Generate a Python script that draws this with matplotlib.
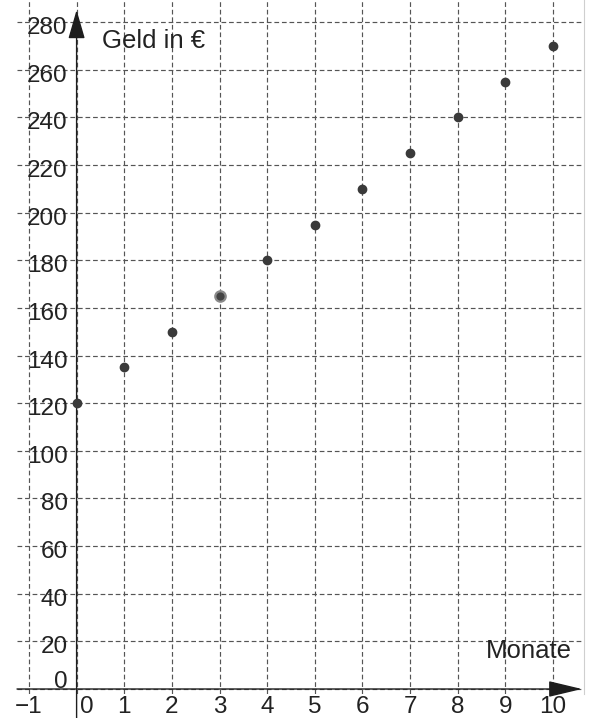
import matplotlib
matplotlib.use("Agg")
import matplotlib.pyplot as plt

plt.rcParams['font.family'] = ['Liberation Sans', 'DejaVu Sans']

# data
months = [0, 1, 2, 3, 4, 5, 6, 7, 8, 9, 10]
money = [120, 135, 150, 165, 180, 195, 210, 225, 240, 255, 270]
highlight_month = 3
x_ticks = [-1, 0, 1, 2, 3, 4, 5, 6, 7, 8, 9, 10]
x_tick_labels = ['−1', '0', '1', '2', '3', '4', '5', '6', '7', '8', '9', '10']
y_ticks = [0, 20, 40, 60, 80, 100, 120, 140, 160, 180, 200, 220, 240, 260, 280]
x_title = 'Monate'
y_title = 'Geld in €'

W, H = 590, 718
fig = plt.figure(figsize=(W / 100, H / 100), dpi=100)
left_px, right_px, bottom_px = 17, 584, 694
ax = fig.add_axes([left_px / W, (H - bottom_px) / H, (right_px - left_px) / W, bottom_px / H])

x0px, pxx = 76.6, 47.64
y0px, pxy = 689.0, 2.382
ax.set_xlim((left_px - x0px) / pxx, (right_px - x0px) / pxx)
ax.set_ylim((y0px - bottom_px) / pxy, y0px / pxy)

ax.set_xticks(x_ticks)
ax.set_yticks(y_ticks)
ax.tick_params(length=0, labelbottom=False, labelleft=False)
ax.grid(True, linestyle=(0, (4.0, 2.4)), color='#555555', lw=0.85)
for s in ['left', 'top', 'bottom']:
    ax.spines[s].set_visible(False)
ax.spines['right'].set_color('#cfcfcf')
ax.spines['right'].set_linewidth(0.8)

axis_col = '#1e1e1e'
# x axis with arrow
x_tip = (582 - x0px) / pxx
ax.annotate('', xy=(x_tip, 0), xytext=((left_px - x0px) / pxx, 0),
            arrowprops=dict(arrowstyle='-|>,head_length=2.1,head_width=0.5', mutation_scale=10,
                            color=axis_col, lw=1.0, shrinkA=0, shrinkB=0),
            annotation_clip=False)
# y axis with arrow
y_tip = (y0px - 10) / pxy
ax.annotate('', xy=(0, y_tip), xytext=(0, (y0px - 718) / pxy),
            arrowprops=dict(arrowstyle='-|>,head_length=1.8,head_width=0.52', mutation_scale=10,
                            color=axis_col, lw=1.0, shrinkA=0, shrinkB=0),
            annotation_clip=False)

# points
ax.plot(months, money, 'o', ms=6, color='#3a3a3a', mec='#3a3a3a', zorder=5)
hi = months.index(highlight_month)
ax.plot([months[hi]], [money[hi]], 'o', ms=7.5, color='#444444', mec='#8a8a8a', mew=1.6, zorder=6)

txt_col = '#222222'
fs = 17.5
for v in y_ticks:
    dy = 1 if v == 0 else -12
    ax.annotate(str(v), xy=(0, v), xytext=(-9, dy), textcoords='offset pixels',
                ha='right', va='baseline', fontsize=fs, color=txt_col, annotation_clip=False)
for v, lab in zip(x_ticks, x_tick_labels):
    dx = 10 if v == 0 else 0
    ax.annotate(lab, xy=(v, 0), xytext=(dx, -24), textcoords='offset pixels',
                ha='center', va='baseline', fontsize=fs, color=txt_col, annotation_clip=False)

ax.text((102 - x0px) / pxx, (y0px - 48) / pxy, y_title, ha='left', va='baseline',
        fontsize=18.5, color=txt_col)
ax.text((486 - x0px) / pxx, (y0px - 658) / pxy, x_title, ha='left', va='baseline',
        fontsize=18.5, color=txt_col)

fig.savefig('out.png', dpi=100)
